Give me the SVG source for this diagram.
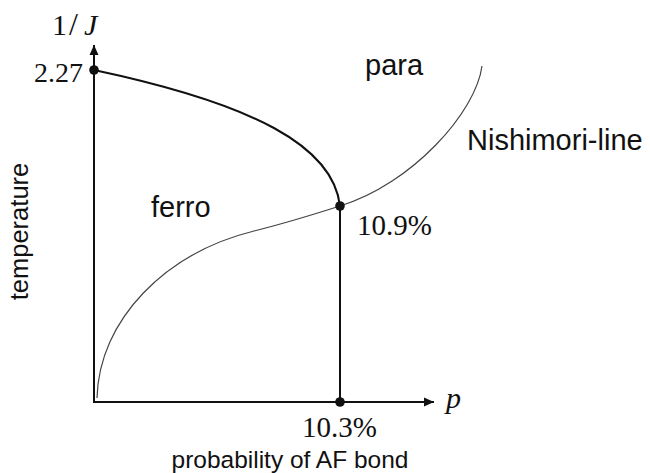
<svg xmlns="http://www.w3.org/2000/svg" width="650" height="473" viewBox="0 0 650 473">
<style>
.serif{font-family:"Liberation Serif","DejaVu Serif",serif;fill:#111}
.sans{font-family:"Liberation Sans",Arial,sans-serif;fill:#111}
.ax{stroke:#111;stroke-width:2;fill:none}
.dot{fill:#111}
</style>
<defs>
<marker id="arr" viewBox="0 0 10 10" refX="10" refY="5" markerWidth="10" markerHeight="10" orient="auto" markerUnits="userSpaceOnUse">
<path d="M0,0.5 L10,5 L0,9.5 Z" fill="#111"/>
</marker>
</defs>
<rect width="650" height="473" fill="#fff"/>
<g id="connectors">
<path id="y-axis" class="ax" d="M94,403 V45" marker-end="url(#arr)"/>
<path id="x-axis" class="ax" d="M93,402 H434" marker-end="url(#arr)"/>
<path id="phase-boundary" class="ax" stroke-width="2.2" d="M94,70 C254,104 333,146 340,206"/>
<path id="vertical-boundary" class="ax" d="M340,206 L340,402"/>
<path id="nishimori-line" d="M97,398 C99,320 165,253 254,231 C282,224 315,214 340,206 C412,184 476,112 482,66" stroke="#444" stroke-width="1.2" fill="none"/>
</g>
<g id="point-227"><circle class="dot" cx="94" cy="70" r="4.8"/></g>
<g id="point-109"><circle class="dot" cx="340" cy="206" r="4.8"/></g>
<g id="point-103"><circle class="dot" cx="340" cy="402" r="4.8"/></g>
<g id="labels">
<text class="serif" y="35" font-size="30"><tspan x="52">1</tspan><tspan x="69" font-size="32">/</tspan><tspan x="84" font-style="italic">J</tspan></text>
<text class="serif" x="83" y="82" font-size="28" text-anchor="end">2.27</text>
<text class="sans" x="365" y="75" font-size="29">para</text>
<text class="sans" x="467" y="150" font-size="29">Nishimori-line</text>
<text class="sans" x="151" y="217" font-size="29">ferro</text>
<text class="serif" x="357" y="235" font-size="29">10.9%</text>
<text class="serif" x="302" y="437" font-size="29">10.3%</text>
<text class="serif" x="446" y="408" font-size="30" font-style="italic">p</text>
<text class="sans" x="290" y="468" font-size="24.5" text-anchor="middle">probability of AF bond</text>
<text class="sans" x="0" y="0" font-size="25.5" text-anchor="middle" transform="translate(27.5,231.5) rotate(-90)">temperature</text>
</g>
</svg>
